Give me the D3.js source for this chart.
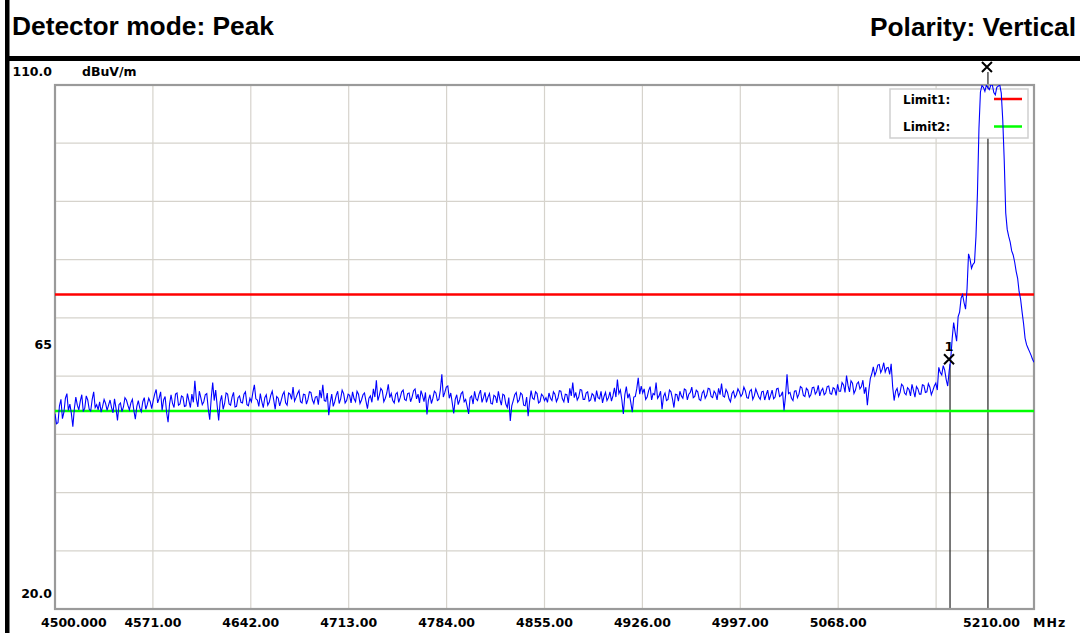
<!DOCTYPE html>
<html>
<head>
<meta charset="utf-8">
<script src="https://cdn.jsdelivr.net/npm/d3@7/dist/d3.min.js"></script>
<style>
  html, body { margin: 0; padding: 0; background: #ffffff; }
  svg { display: block; }
</style>
</head>
<body>
<svg id="chart" width="1080" height="633"></svg>
<script>
// ---------------- DATA ----------------
const headerLeft = "Detector mode: Peak";
const headerRight = "Polarity: Vertical";
const yUnit = "dBuV/m";
const xUnit = "MHz";

const startFreq = 4500;
const stopFreq = 5210;
const yMin = 20;
const yMax = 110;

const xTicks = [4500, 4571, 4642, 4713, 4784, 4855, 4926, 4997, 5068, 5139, 5210];
const xTickLabels = ["4500.000", "4571.00", "4642.00", "4713.00", "4784.00", "4855.00", "4926.00", "4997.00", "5068.00", "", "5210.00"];
const yGrid = [30, 40, 50, 60, 70, 80, 90, 100];
const yTickValues = [110, 65, 20];
const yTickLabels = ["110.0", "65", "20.0"];

const limitNames = ["Limit1:", "Limit2:"];
const limitValues = [74, 54];
const limitColors = ["#ff0000", "#00ff00"];

const markerNames = ["1", ""];
const markerFreqs = [5149.1, 5176.6];
const markerLevels = [62.9, 113.1];

// Peak trace (dBuV/m), evenly swept from startFreq to stopFreq
const traceLevels = [
  // 4500 - 4571
  53.5, 51.8, 52.0, 54.9, 56.0, 52.7, 53.8, 56.2, 57.0, 54.1, 55.2, 53.6, 51.3, 54.4, 56.4, 55.0, 54.2, 55.7,
  56.8, 53.9, 54.5, 56.6, 55.9, 54.3, 54.0, 56.0, 57.3, 54.6, 55.1, 54.2, 55.6, 53.8, 54.8, 56.0, 55.3, 54.1,
  55.0, 55.9, 54.6, 53.7, 56.1, 54.5, 52.4, 55.1, 55.4, 53.9, 54.7, 56.3, 55.9, 55.0, 54.2, 55.4, 56.0, 54.1,
  52.6, 54.8, 55.8, 54.5, 53.9, 55.6, 56.3, 54.3, 55.1, 56.2, 55.6, 54.4,
  // 4571 - 4642
  55.8, 56.9, 57.7, 55.4, 56.2, 57.3, 54.1, 55.9, 56.5, 53.8, 52.1, 55.2, 56.8, 55.3, 54.6, 56.9, 57.1, 55.0,
  55.2, 56.6, 56.4, 54.8, 54.9, 57.0, 55.8, 54.6, 56.9, 55.5, 59.2, 56.1, 54.7, 57.4, 56.3, 55.1, 55.6, 56.8,
  57.0, 54.4, 52.5, 56.2, 58.9, 55.8, 57.6, 54.9, 52.4, 55.6, 56.7, 54.3, 55.3, 57.1, 56.9, 55.2, 55.0, 56.4,
  57.2, 54.7, 54.8, 56.3, 56.6, 55.5, 55.4, 56.9, 57.3, 55.1, 54.9, 56.2,
  // 4642 - 4713
  55.6, 57.2, 58.5, 56.1, 55.9, 54.8, 57.0, 55.6, 54.6, 56.3, 56.8, 55.0, 55.5, 56.7, 57.4, 55.9, 54.3, 56.5,
  56.2, 54.9, 55.8, 56.8, 57.3, 55.4, 55.0, 57.1, 56.9, 56.0, 58.1, 55.7, 56.3, 57.0, 57.5, 55.6, 55.4, 56.9,
  56.8, 55.2, 56.0, 57.3, 57.2, 55.9, 55.3, 56.4, 56.5, 55.1, 57.6, 56.2, 58.5, 55.8, 55.7, 57.1, 53.3, 55.5,
  56.9, 54.8, 55.6, 56.7, 57.4, 55.3, 56.1, 57.6, 57.0, 55.4, 55.8, 56.9,
  // 4713 - 4784
  56.7, 55.4, 57.3, 56.1, 55.6, 57.4, 56.9, 55.3, 55.9, 56.8, 57.1, 55.7, 54.4, 56.2, 56.6, 55.5, 57.8, 56.4,
  59.3, 55.8, 56.7, 57.9, 57.5, 55.6, 56.2, 57.1, 58.6, 56.3, 57.0, 55.8, 55.4, 56.9, 57.2, 55.5, 56.3, 57.3,
  57.6, 56.0, 55.8, 57.0, 57.1, 55.6, 56.4, 57.5, 57.8, 56.1, 56.9, 55.4, 57.5, 56.7, 55.6, 57.2, 53.4, 55.9,
  56.8, 55.3, 56.2, 57.4, 57.1, 55.8, 56.0, 57.6, 60.3, 56.4, 57.2, 58.1,
  // 4784 - 4855
  58.3, 56.2, 57.1, 55.4, 53.6, 56.0, 56.8, 55.1, 55.9, 57.0, 57.3, 55.6, 56.0, 54.8, 53.5, 56.3, 56.6, 55.2,
  57.4, 56.1, 55.8, 56.9, 57.6, 55.5, 56.3, 57.2, 55.5, 56.4, 57.0, 55.3, 55.2, 56.7, 56.5, 55.4, 57.4, 56.0,
  55.0, 56.9, 56.7, 55.2, 54.6, 56.3, 52.3, 54.9, 55.8, 56.8, 57.2, 55.5, 55.9, 57.1, 56.8, 55.0, 54.9, 56.4,
  53.1, 55.7, 57.5, 56.2, 56.0, 57.3, 57.0, 55.4, 55.6, 56.9, 56.6, 55.8,
  // 4855 - 4926
  56.3, 55.5, 57.1, 56.2, 55.8, 57.3, 56.9, 55.6, 56.2, 57.5, 57.4, 56.1, 55.6, 56.9, 56.8, 55.4, 57.9, 56.6,
  58.9, 56.3, 57.2, 55.9, 56.4, 57.7, 57.6, 56.0, 56.0, 57.1, 57.3, 55.7, 55.9, 57.0, 56.7, 55.6, 57.5, 56.3,
  56.1, 57.4, 55.4, 56.5, 57.2, 55.8, 56.3, 57.3, 55.7, 56.6, 58.0, 56.4, 59.4, 57.0, 57.6, 55.9, 53.5, 56.8,
  58.2, 56.2, 57.0, 55.5, 53.8, 56.4, 56.5, 57.8, 59.7, 56.9, 58.3, 57.1,
  // 4926 - 4997
  57.8, 56.0, 56.4, 57.5, 58.2, 55.9, 57.0, 56.8, 58.9, 56.2, 56.6, 57.4, 54.3, 56.5, 57.1, 55.8, 56.0, 57.6,
  57.3, 56.1, 54.6, 56.9, 56.8, 55.7, 57.4, 56.6, 56.2, 57.8, 57.6, 55.9, 56.9, 57.2, 58.1, 56.3, 56.5, 57.6,
  57.3, 56.0, 55.8, 57.1, 57.5, 56.2, 56.7, 57.9, 57.8, 56.5, 56.3, 57.4, 57.0, 55.9, 57.9, 56.8, 58.7, 56.6,
  56.4, 57.7, 57.2, 56.1, 55.6, 57.0, 57.4, 56.3, 56.8, 57.8, 57.3, 56.5,
  // 4997 - 5068
  56.9, 58.1, 57.5, 56.3, 56.2, 57.4, 57.7, 56.0, 56.6, 57.8, 57.1, 56.4, 56.0, 57.3, 57.4, 55.9, 56.8, 57.6,
  55.9, 56.7, 57.6, 56.1, 56.4, 57.8, 57.9, 56.5, 56.7, 57.3, 54.1, 56.6, 60.3, 57.0, 57.2, 56.2, 55.8, 57.4,
  57.5, 56.3, 56.9, 58.2, 58.0, 56.7, 56.5, 57.9, 57.6, 56.4, 56.8, 58.0, 58.1, 56.9, 57.3, 58.4, 56.6, 57.5,
  57.9, 56.8, 57.1, 58.2, 58.3, 57.0, 56.9, 58.0, 57.8, 56.7, 58.6, 57.4,
  // 5068 - 5139
  57.4, 58.9, 58.5, 57.2, 60.1, 58.4, 57.3, 59.2, 58.8, 57.0, 57.6, 58.7, 59.0, 57.8, 58.2, 59.3, 57.0, 58.1,
  55.0, 57.6, 59.6, 60.4, 61.6, 60.1, 60.8, 61.9, 62.0, 60.6, 61.2, 62.3, 60.7, 61.4, 61.5, 60.3, 62.1, 58.2,
  55.8, 57.4, 57.9, 56.5, 57.2, 58.6, 58.3, 57.1, 56.8, 58.0, 57.7, 56.6, 58.6, 57.5, 56.4, 58.2, 57.8, 56.9,
  56.9, 58.5, 58.4, 57.2, 57.3, 58.7, 58.1, 56.8, 57.5, 58.3, 58.8, 57.6,
  // 5139 - 5210
  61.5, 60.6, 60.2, 61.8, 61.0, 59.4, 58.3, 60.9, 62.8, 66.4, 69.2, 67.5, 66.0, 70.2, 71.0, 73.4, 74.0, 72.6,
  71.5, 75.0, 81.0, 80.1, 78.5, 79.2, 79.5, 84.0, 91.5, 102.5, 108.8, 109.9, 109.6, 108.9, 110.0, 109.5, 109.2, 110.0,
  110.0, 108.7, 108.3, 109.6, 109.8, 110.0, 108.6, 104.0, 97.0, 88.0, 85.2, 84.0, 83.0, 81.5, 80.8, 79.6, 78.0, 76.8,
  74.5, 73.2, 71.0, 69.0, 66.5, 65.4, 64.8, 64.2, 63.6, 62.9, 62.4
];

// ---------------- DRAW ----------------
const svg = d3.select("#chart");
const plot = { left: 55, right: 1034, top: 85, bottom: 609 };

const x = d3.scaleLinear().domain([startFreq, stopFreq]).range([plot.left, plot.right]);
const y = d3.scaleLinear().domain([yMin, yMax]).range([plot.bottom, plot.top]);

svg.append("rect").attr("width", 1080).attr("height", 633).attr("fill", "#ffffff");

// frame bars
svg.append("rect").attr("x", 5).attr("y", 0).attr("width", 4.5).attr("height", 633).attr("fill", "#000");
svg.append("rect").attr("x", 5).attr("y", 56).attr("width", 1075).attr("height", 5).attr("fill", "#000");

// header
svg.append("text").attr("x", 12).attr("y", 35)
  .attr("font-family", "'Liberation Sans', Arial, sans-serif").attr("font-weight", "bold")
  .attr("font-size", 25).attr("textLength", 262).attr("lengthAdjust", "spacingAndGlyphs")
  .attr("fill", "#000").text(headerLeft);
svg.append("text").attr("x", 870).attr("y", 36)
  .attr("font-family", "'Liberation Sans', Arial, sans-serif").attr("font-weight", "bold")
  .attr("font-size", 25).attr("textLength", 206).attr("lengthAdjust", "spacingAndGlyphs")
  .attr("fill", "#000").text(headerRight);

// grid
const gridColor = "#d6d3cc";
svg.append("g").selectAll("line").data(xTicks.slice(1, -1)).join("line")
  .attr("x1", d => x(d)).attr("x2", d => x(d))
  .attr("y1", plot.top).attr("y2", plot.bottom)
  .attr("stroke", gridColor).attr("stroke-width", 1.2);
svg.append("g").selectAll("line").data(yGrid).join("line")
  .attr("x1", plot.left).attr("x2", plot.right)
  .attr("y1", d => y(d)).attr("y2", d => y(d))
  .attr("stroke", gridColor).attr("stroke-width", 1.2);

// marker vertical lines
svg.append("g").selectAll("line").data(markerFreqs).join("line")
  .attr("x1", d => x(d)).attr("x2", d => x(d))
  .attr("y1", (d, i) => y(markerLevels[i]) + 5).attr("y2", plot.bottom)
  .attr("stroke", "#222").attr("stroke-width", 1.2);

// plot border
svg.append("rect")
  .attr("x", plot.left).attr("y", plot.top)
  .attr("width", plot.right - plot.left).attr("height", plot.bottom - plot.top)
  .attr("fill", "none").attr("stroke", "#9a9a9a").attr("stroke-width", 2.2);

// legend box
const lg = svg.append("g");
lg.append("rect").attr("x", 890).attr("y", 89).attr("width", 138).attr("height", 49)
  .attr("fill", "#ffffff").attr("stroke", "#cfcfcf").attr("stroke-width", 1.5);
limitNames.forEach((n, i) => {
  const yy = 99 + i * 27.5;
  lg.append("text").attr("x", 903).attr("y", yy + 4.5)
    .attr("font-family", "'DejaVu Sans', sans-serif").attr("font-weight", "bold")
    .attr("font-size", 12).attr("fill", "#000").text(n);
  lg.append("line").attr("x1", 994).attr("x2", 1022).attr("y1", yy).attr("y2", yy)
    .attr("stroke", limitColors[i]).attr("stroke-width", 2.5);
});

// limit lines
svg.append("g").selectAll("line").data(limitValues).join("line")
  .attr("x1", plot.left).attr("x2", plot.right)
  .attr("y1", d => y(d)).attr("y2", d => y(d))
  .attr("stroke", (d, i) => limitColors[i]).attr("stroke-width", 2.5);

// trace
svg.append("clipPath").attr("id", "clip").append("rect")
  .attr("x", plot.left).attr("y", plot.top)
  .attr("width", plot.right - plot.left).attr("height", plot.bottom - plot.top);
const n = traceLevels.length;
const traceData = traceLevels.map((v, i) => [startFreq + i * (stopFreq - startFreq) / (n - 1), v]);
svg.append("path").datum(traceData)
  .attr("clip-path", "url(#clip)")
  .attr("fill", "none").attr("stroke", "#0000ff").attr("stroke-width", 1.1)
  .attr("d", d3.line().x(d => x(d[0])).y(d => y(d[1])));

// markers
const mk = svg.append("g");
markerFreqs.forEach((f, i) => {
  const cx = x(f) - 1, cy = y(markerLevels[i]);
  mk.append("path")
    .attr("d", `M${cx - 5},${cy - 5}L${cx + 5},${cy + 5}M${cx + 5},${cy - 5}L${cx - 5},${cy + 5}`)
    .attr("stroke", "#000").attr("stroke-width", 2).attr("fill", "none");
  if (markerNames[i]) {
    mk.append("text").attr("x", cx).attr("y", cy - 8).attr("text-anchor", "middle")
      .attr("font-family", "'DejaVu Sans', sans-serif").attr("font-weight", "bold")
      .attr("font-size", 13).attr("fill", "#000").text(markerNames[i]);
  }
});

// axis labels
const labelFont = "'DejaVu Sans', sans-serif";
const yLabelOffsets = [-9, 2, -11];
svg.append("g").selectAll("text").data(yTickValues).join("text")
  .attr("x", 52).attr("y", (d, i) => y(d) + yLabelOffsets[i])
  .attr("text-anchor", "end")
  .attr("font-family", labelFont).attr("font-weight", "bold").attr("font-size", 12.5)
  .attr("fill", "#000").text((d, i) => yTickLabels[i]);
svg.append("text").attr("x", 82).attr("y", 76)
  .attr("font-family", labelFont).attr("font-weight", "bold").attr("font-size", 12.5)
  .attr("fill", "#000").text(yUnit);

svg.append("g").selectAll("text").data(xTicks).join("text")
  .attr("x", (d, i) => i === 0 ? x(d) - 14 : (i === xTicks.length - 1 ? x(d) - 14 : x(d)))
  .attr("y", 627)
  .attr("text-anchor", (d, i) => i === 0 ? "start" : (i === xTicks.length - 1 ? "end" : "middle"))
  .attr("font-family", labelFont).attr("font-weight", "bold").attr("font-size", 12.5)
  .attr("fill", "#000").text((d, i) => xTickLabels[i]);
svg.append("text").attr("x", 1033).attr("y", 627)
  .attr("font-family", labelFont).attr("font-weight", "bold").attr("font-size", 12.5)
  .attr("letter-spacing", 1)
  .attr("fill", "#000").text(xUnit);
</script>
</body>
</html>
